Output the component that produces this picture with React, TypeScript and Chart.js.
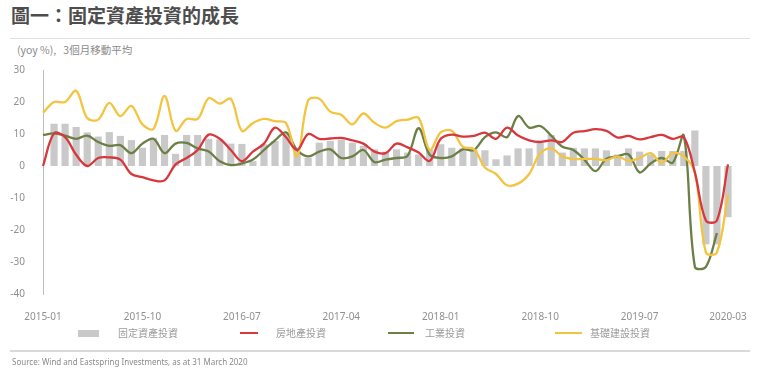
import React, { useEffect, useRef } from "react";
import { Chart, registerables } from "chart.js";

Chart.register(...registerables);

const months: string[] = [
  "2015-01","2015-02","2015-03","2015-04","2015-05","2015-06","2015-07","2015-08","2015-09","2015-10","2015-11","2015-12",
  "2016-01","2016-02","2016-03","2016-04","2016-05","2016-06","2016-07","2016-08","2016-09","2016-10","2016-11","2016-12",
  "2017-01","2017-02","2017-03","2017-04","2017-05","2017-06","2017-07","2017-08","2017-09","2017-10","2017-11","2017-12",
  "2018-01","2018-02","2018-03","2018-04","2018-05","2018-06","2018-07","2018-08","2018-09","2018-10","2018-11","2018-12",
  "2019-01","2019-02","2019-03","2019-04","2019-05","2019-06","2019-07","2019-08","2019-09","2019-10","2019-11","2019-12",
  "2020-01","2020-02","2020-03",
];

const tickLabels: string[] = ["2015-01", "2015-10", "2016-07", "2017-04", "2018-01", "2018-10", "2019-07", "2020-03"];

// 固定資產投資 (bars)
const fixedAsset: (number | null)[] = [
  null, 13.2, 13.2, 12.2, 10.5, 9.2, 10.6, 9.4, 8.1, 5.7, 8.8, 9.7,
  3.8, 9.7, 9.7, 8.5, 8.3, 7.0, 6.9, 1.5, 6.8, 7.8, 10.0, 4.7,
  2.6, 7.3, 7.8, 8.3, 7.3, 6.3, 5.2, 4.5, 5.2, 4.2, 3.6, 5.0,
  6.8, 5.7, 5.5, 5.0, 4.9, 2.1, 3.3, 5.5, 5.5, 7.8, 9.7, 4.2,
  5.7, 5.5, 5.5, 4.9, 3.6, 5.5, 4.5, 3.6, 4.7, 4.7, 4.7, 11.1,
  -24.5, -24.5, -16.0,
];

// 房地產投資 (red)
const realEstate: (number | null)[] = [
  0.0, 10.2, 9.0, 3.5, 0.0, 2.5, 2.7, 2.0, -2.5, -3.5, -4.5, -4.5,
  0.5, 2.5, 5.0, 9.8, 8.5, 5.0, 1.5, 4.5, 7.0, 12.0, 9.0, 5.0,
  10.0, 8.5, 8.6, 8.8, 8.0, 7.0, 4.5, 4.0, 7.0, 5.8, 4.2, 1.6,
  8.5, 9.8, 9.2, 9.4, 10.4, 8.5, 12.0, 9.5, 8.0, 7.5, 8.0, 7.5,
  10.4, 10.9, 11.5, 11.0, 8.9, 9.4, 8.3, 9.0, 9.7, 8.5, 9.0, -2.0,
  -17.0, -17.0, 0.5,
];

// 工業投資 (green)
const industrial: (number | null)[] = [
  9.7, 10.2, 9.5, 8.5, 9.5, 7.5, 6.3, 6.5, 4.0, 7.0, 8.5, 4.0,
  7.0, 7.2, 5.5, 4.5, 1.5, 0.3, 0.8, 2.0, 5.0, 8.0, 10.5, 5.0,
  3.0, 4.5, 5.2, 2.5, 3.0, 5.0, 1.2, 2.0, 2.5, 3.2, 11.8, 3.5,
  2.5, 3.0, 5.2, 5.0, 9.0, 10.5, 9.0, 15.6, 12.0, 12.5, 9.5, 6.0,
  5.0, 2.0, -1.6, 2.3, 3.0, 3.6, -2.0, 0.8, 2.5, 1.0, 9.5, -31.5,
  -31.5, -21.0, null,
];

// 基礎建設投資 (yellow)
const infrastructure: (number | null)[] = [
  16.6, 20.0, 20.0, 23.5, 15.0, 14.5, 19.7, 15.6, 18.8, 13.0, 11.6, 21.9,
  11.0, 14.7, 14.7, 21.2, 19.5, 21.0, 11.0, 13.4, 14.7, 14.0, 13.4, 3.0,
  20.5, 21.0, 17.0, 16.0, 13.0, 16.4, 13.5, 12.0, 14.0, 14.5, 15.0, 5.0,
  10.5, 11.0, 6.0, 5.3, -0.5, -2.5, -6.0, -5.5, -2.5, 4.0, 5.5, 3.0,
  2.2, 2.2, 2.2, 1.8, 3.0, 1.6, 2.5, 4.0, 1.0, 4.0, 3.0, -2.0,
  -27.0, -27.0, -9.0,
];

const seriesNames = ["固定資產投資", "房地產投資", "工業投資", "基礎建設投資"];
const seriesColors = ["#c9c9c9", "#d7373d", "#6c7f45", "#f2c440"];

const FONT = '"Noto Sans", "Noto Sans CJK TC", sans-serif';
const CJK = '"Noto Sans CJK TC", "Noto Sans", sans-serif';

export default function App() {
  const canvasRef = useRef<HTMLCanvasElement | null>(null);

  useEffect(() => {
    const canvas = canvasRef.current;
    if (!canvas) return;
    const lineStyle = { borderWidth: 2.3, pointRadius: 0, tension: 0.35, fill: false };
    const chart = new Chart(canvas, {
      type: "bar",
      data: {
        labels: months,
        datasets: [
          {
            type: "bar",
            label: seriesNames[0],
            data: fixedAsset,
            backgroundColor: seriesColors[0],
            barPercentage: 0.65,
            categoryPercentage: 1,
            order: 10,
            clip: false,
          } as any,
          { type: "line", label: seriesNames[1], data: realEstate, borderColor: seriesColors[1], order: 1, ...lineStyle },
          { type: "line", label: seriesNames[2], data: industrial, borderColor: seriesColors[2], order: 3, ...lineStyle },
          { type: "line", label: seriesNames[3], data: infrastructure, borderColor: seriesColors[3], order: 2, ...lineStyle },
        ],
      },
      options: {
        animation: false,
        responsive: false,
        devicePixelRatio: 1,
        layout: { padding: { left: 0, right: 32, top: 70, bottom: 57 } },
        plugins: { legend: { display: false }, tooltip: { enabled: false } },
        scales: {
          x: {
            type: "category",
            offset: false,
            grid: { display: false },
            border: { display: false },
            ticks: {
              autoSkip: false,
              maxRotation: 0,
              minRotation: 0,
              padding: 9,
              color: "#909090",
              font: { family: FONT, size: 10 },
              callback: (_v: any, i: number) => (tickLabels.includes(months[i]) ? months[i] : ""),
            },
            afterFit: (s: any) => {
              s.height = 30;
            },
          },
          y: {
            min: -40,
            max: 30,
            grid: { display: false },
            border: { display: true, color: "#bdbdbd", width: 1 },
            ticks: {
              stepSize: 10,
              padding: 10,
              color: "#909090",
              font: { family: FONT, size: 10 },
            },
            afterFit: (s: any) => {
              s.width = 43;
            },
          },
        },
      },
    });
    return () => chart.destroy();
  }, []);

  const legendItem = (left: number, w: number, h: number, color: string, textLeft: number, text: string) => (
    <>
      <div style={{ position: "absolute", left, top: 333 - h / 2, width: w, height: h, background: color }} />
      <div
        style={{
          position: "absolute",
          left: textLeft,
          top: 325,
          fontFamily: CJK,
          fontSize: 10,
          lineHeight: "16px",
          color: "#9a9a9a",
          whiteSpace: "nowrap",
        }}
      >
        {text}
      </div>
    </>
  );

  return (
    <div style={{ position: "absolute", left: 0, top: 0, width: 760, height: 381, background: "#fff", overflow: "hidden" }}>
      <div
        style={{
          position: "absolute",
          left: 11,
          top: 3,
          fontFamily: CJK,
          fontWeight: 700,
          fontSize: 19,
          lineHeight: "24px",
          color: "#4d4d4d",
          whiteSpace: "nowrap",
        }}
      >
        圖一：固定資產投資的成長
      </div>
      <div style={{ position: "absolute", left: 10, top: 38, width: 740, height: 1, background: "#e0e0e0" }} />
      <div
        style={{
          position: "absolute",
          left: 17,
          top: 42,
          fontFamily: CJK,
          fontSize: 10.5,
          lineHeight: "16px",
          color: "#8a8a8a",
          whiteSpace: "nowrap",
        }}
      >
        (yoy %),&nbsp;&nbsp;&nbsp;3個月移動平均
      </div>
      <canvas
        ref={canvasRef}
        width={760}
        height={381}
        style={{ position: "absolute", left: 0, top: 0, width: 760, height: 381 }}
      />
      {legendItem(78, 21, 7, seriesColors[0], 118, seriesNames[0])}
      {legendItem(240, 18, 2.5, seriesColors[1], 276, seriesNames[1])}
      {legendItem(388, 26, 2.5, seriesColors[2], 425, seriesNames[2])}
      {legendItem(555, 27, 2.5, seriesColors[3], 590, seriesNames[3])}
      <div style={{ position: "absolute", left: 10, top: 350, width: 740, height: 2, background: "#d9d9d9" }} />
      <div
        style={{
          position: "absolute",
          left: 12,
          top: 356,
          fontFamily: FONT,
          fontSize: 8,
          lineHeight: "12px",
          color: "#8a8a8a",
          whiteSpace: "nowrap",
        }}
      >
        Source: Wind and Eastspring Investments, as at 31 March 2020
      </div>
    </div>
  );
}
